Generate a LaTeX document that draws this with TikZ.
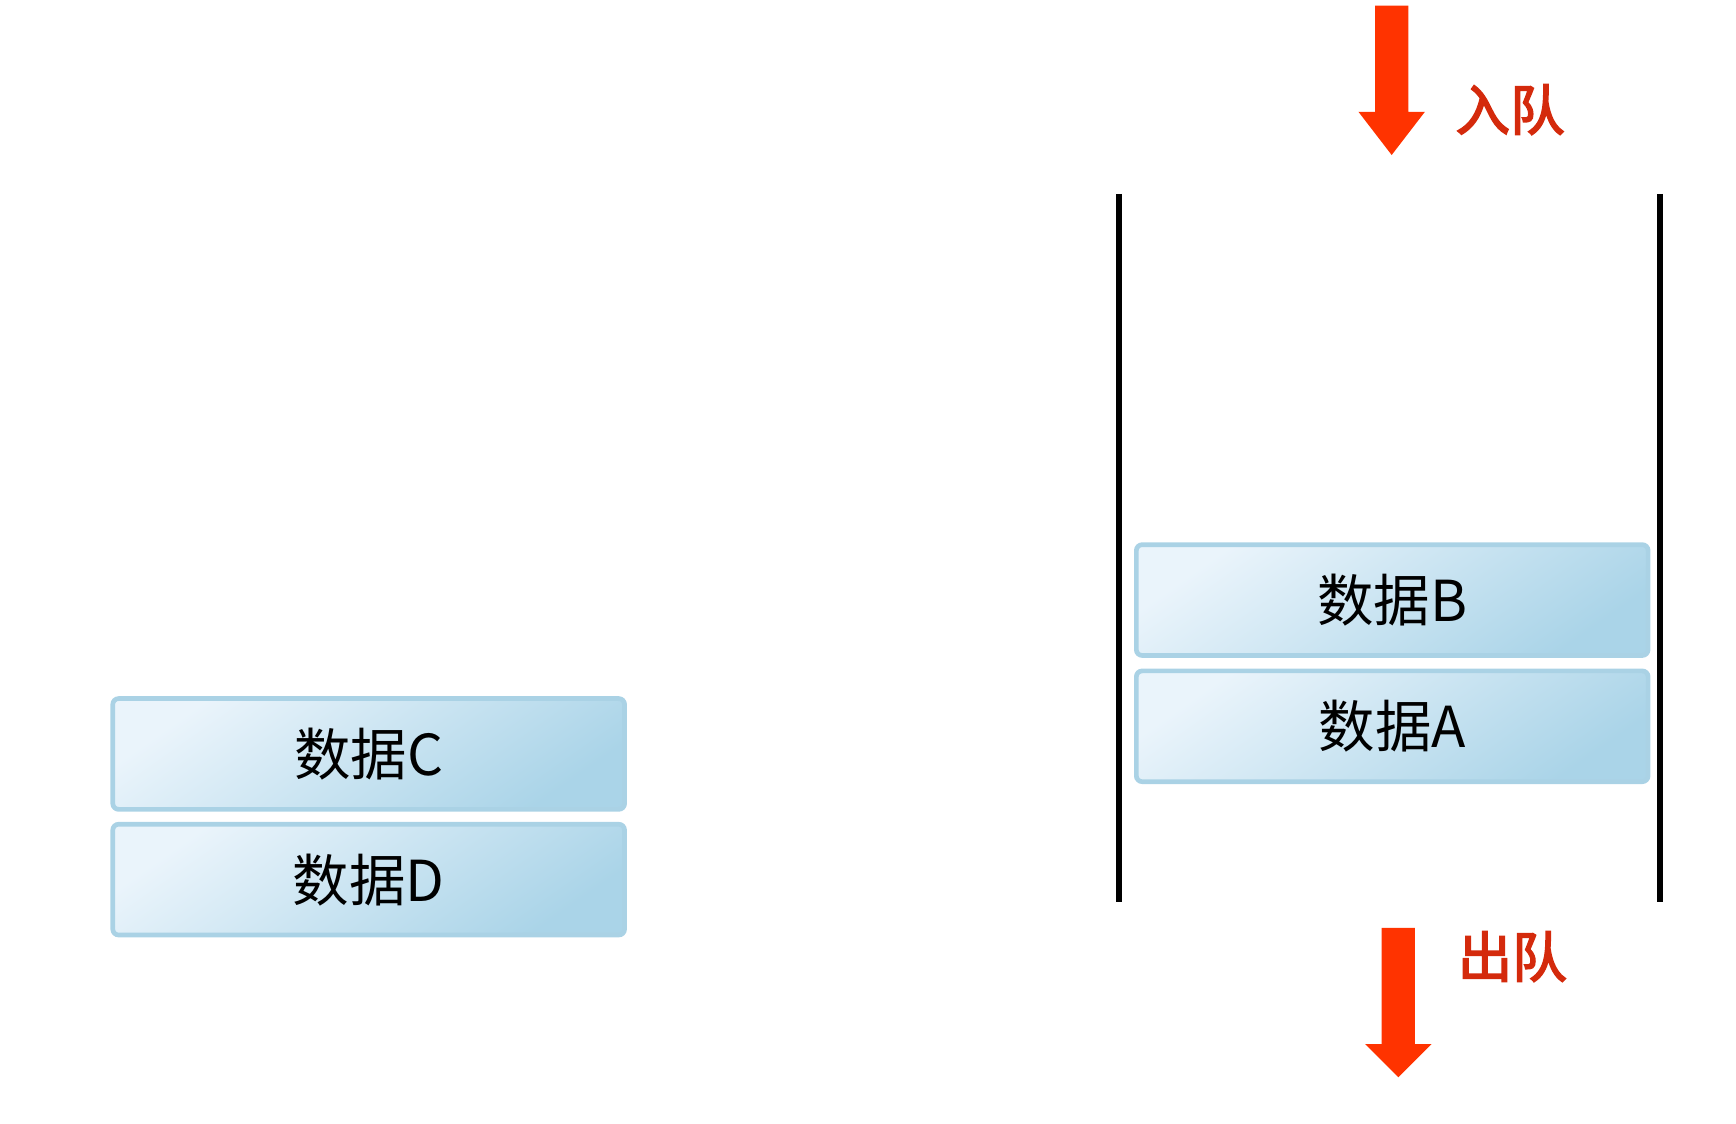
\documentclass[tikz,border=0pt]{standalone}
\usepackage{fontspec}
\setmainfont{Noto Sans CJK SC}
\newfontfamily\cjkb[FakeBold=3]{Noto Sans CJK SC}
\definecolor{arrowred}{HTML}{FF3300}
\definecolor{labelred}{HTML}{D42A0C}
\definecolor{boxedge}{HTML}{AAD2E5}
\definecolor{boxlight}{HTML}{EAF4FB}
\definecolor{boxdark}{HTML}{AAD4E8}
\tikzset{
  databox/.style={draw=boxedge, line width=1.2pt, rounded corners=1.5pt,
    left color=boxlight, right color=boxdark, shading angle=35,
    minimum width=4.62cm, minimum height=1.0cm, inner sep=0pt,
    font=\fontsize{14.5}{16}\selectfont, text=black},
  wall/.style={line width=1.5pt, black},
  blockarrow/.style={fill=arrowred, draw=none},
  qlabel/.style={font=\cjkb\fontsize{14}{16}\selectfont, text=labelred, inner sep=0pt}
}
\begin{document}
\begin{tikzpicture}[x=0.01cm,y=-0.01cm]
\useasboundingbox (0,0) rectangle (1568,1015);
% queue walls
\draw[wall] (1011,175) -- (1011,815);
\draw[wall] (1499,175) -- (1499,815);
% data boxes
\node[databox] (B) at (1257.5,542) {数据B};
\node[databox] (A) at (1257.5,656) {数据A};
\node[databox] (C) at (333,681) {数据C};
\node[databox] (D) at (333,794.5) {数据D};
% enqueue arrow
\fill[blockarrow] (1242,5) -- (1272,5) -- (1272,101) -- (1287,101) -- (1257,140) -- (1227,101) -- (1242,101) -- cycle;
\node[qlabel, anchor=west] (in) at (1314,99) {入队};
% dequeue arrow
\fill[blockarrow] (1248,838) -- (1278,838) -- (1278,943) -- (1293,943) -- (1263,973) -- (1233,943) -- (1248,943) -- cycle;
\node[qlabel, anchor=west] (out) at (1316,864) {出队};
\end{tikzpicture}
\end{document}
